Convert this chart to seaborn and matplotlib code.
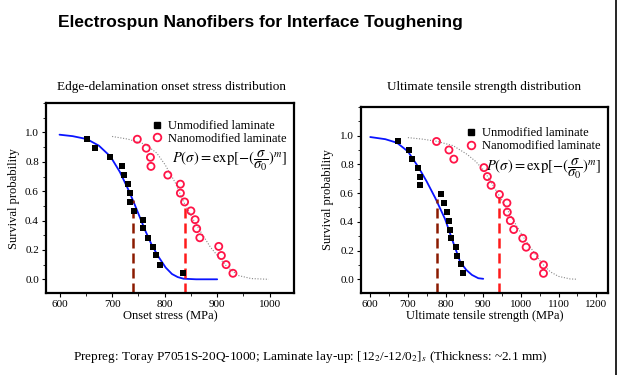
import numpy as np
import pandas as pd
import matplotlib.pyplot as plt
import seaborn as sns
from matplotlib.lines import Line2D
from matplotlib.ticker import MultipleLocator

# --- data ---
# edge-delamination onset stress (MPa) and survival probability
onset_unmod_x = [653, 667, 696, 719, 723, 730, 734, 735, 742, 759, 759, 769, 778, 784, 791, 835]
onset_unmod_p = [0.954, 0.893, 0.831, 0.769, 0.710, 0.646, 0.589, 0.527, 0.466, 0.406, 0.347, 0.283, 0.221, 0.164, 0.100, 0.041]
onset_nano_x = [748, 765, 773, 774, 806, 830, 830, 838, 850, 858, 861, 867, 903, 908, 917, 930]
onset_nano_p = [0.954, 0.893, 0.831, 0.769, 0.710, 0.648, 0.587, 0.527, 0.466, 0.406, 0.345, 0.283, 0.224, 0.162, 0.100, 0.041]
onset_unmod_fit_x = [600, 625, 652, 675, 697, 715, 731, 741, 752, 763, 776, 789, 802, 814, 825, 836, 860, 900]
onset_unmod_fit_p = [0.985, 0.975, 0.955, 0.91, 0.836, 0.73, 0.61, 0.527, 0.43, 0.333, 0.23, 0.15, 0.08, 0.036, 0.015, 0.004, 0.0, 0.0]
onset_nano_fit_x = [700, 730, 763, 785, 801, 820, 836, 854, 871, 887, 903, 920, 941, 965, 998]
onset_nano_fit_p = [0.973, 0.955, 0.92, 0.86, 0.78, 0.66, 0.527, 0.41, 0.31, 0.22, 0.15, 0.08, 0.025, 0.005, 0.0]
onset_mean = [740, 838]
onset_mean_p = [0.54, 0.52]

# ultimate tensile strength (MPa) and survival probability
uts_unmod_x = [673, 704, 712, 727, 731, 733, 788, 797, 803, 808, 811, 814, 827, 830, 842, 847]
uts_unmod_p = [0.959, 0.900, 0.836, 0.777, 0.715, 0.654, 0.592, 0.531, 0.467, 0.408, 0.346, 0.285, 0.223, 0.164, 0.103, 0.041]
uts_nano_x = [776, 809, 822, 902, 911, 921, 943, 963, 964, 972, 981, 1005, 1014, 1035, 1060, 1060]
uts_nano_p = [0.959, 0.900, 0.836, 0.777, 0.715, 0.654, 0.590, 0.531, 0.467, 0.408, 0.346, 0.285, 0.223, 0.162, 0.100, 0.041]
uts_unmod_fit_x = [600, 640, 671, 700, 728, 750, 773, 786, 799, 817, 828, 839, 855, 870, 887, 900]
uts_unmod_fit_p = [0.99, 0.975, 0.95, 0.89, 0.78, 0.68, 0.564, 0.49, 0.417, 0.28, 0.2, 0.12, 0.065, 0.03, 0.007, 0.003]
uts_nano_fit_x = [700, 740, 777, 820, 857, 880, 901, 920, 941, 965, 989, 1010, 1034, 1056, 1078, 1100, 1131, 1150]
uts_nano_fit_p = [0.986, 0.975, 0.96, 0.93, 0.87, 0.82, 0.76, 0.68, 0.588, 0.48, 0.37, 0.28, 0.19, 0.11, 0.052, 0.02, 0.002, 0.0]
uts_mean = [777, 941]
uts_mean_p = [0.56, 0.575]

sns.set_style('ticks')
plt.rcParams['font.family'] = ['Liberation Serif', 'DejaVu Serif']
plt.rcParams['mathtext.fontset'] = 'stix'
for k in ['text.color', 'axes.labelcolor', 'xtick.color', 'ytick.color', 'axes.edgecolor']:
    plt.rcParams[k] = 'black'

fig = plt.figure(figsize=(6.2, 3.75), dpi=100)
ax1 = fig.add_axes([0.074, 0.218, 0.400, 0.507])
ax2 = fig.add_axes([0.582, 0.219, 0.399, 0.496])

formula = r'$P(\sigma) = \exp[-(\dfrac{\sigma}{\sigma_0})^m]$'


def panel(ax, ux, up, nx, npr, ufx, ufp, nfx, nfp, mean, mean_p, xlim, xmax_tick, xlabel, leg_y, form_y):
    sns.lineplot(x=ufx, y=ufp, ax=ax, color='#0a14ff', lw=1.3, sort=False)
    sns.lineplot(x=nfx, y=nfp, ax=ax, color='#888888', lw=0.8, ls=(0, (1, 1.5)), sort=False)
    sns.scatterplot(x=ux, y=up, ax=ax, marker='s', color='black', s=18, linewidth=0, zorder=3)
    sns.scatterplot(x=nx, y=npr, ax=ax, marker='o', facecolor='none', edgecolor='#ff1447',
                    s=26, linewidth=1.3, zorder=3)
    ax.set_xlim(*xlim)
    ax.set_ylim(-0.095, 1.2)
    ax.vlines(mean[0], -0.095, mean_p[0], color='#8b1a00', lw=1.8, ls=(0, (4, 2)), zorder=2)
    ax.vlines(mean[1], -0.095, mean_p[1], color='#ff1a1a', lw=1.8, ls=(0, (4, 2)), zorder=2)
    ax.set_xticks(np.arange(600, xmax_tick + 1, 100))
    ax.xaxis.set_minor_locator(MultipleLocator(50))
    ax.set_yticks(np.arange(0, 1.01, 0.2))
    ax.yaxis.set_minor_locator(MultipleLocator(0.1))
    ax.set_yticklabels([f'{v:.1f}' for v in np.arange(0, 1.01, 0.2)])
    ax.tick_params(labelsize=8, length=3, width=0.8, pad=2)
    ax.tick_params(which='minor', length=2, width=0.6)
    for s in ax.spines.values():
        s.set_linewidth(1.6)
        s.set_visible(True)
    ax.set_xlabel(xlabel, fontsize=9, labelpad=1)
    ax.set_ylabel('Survival probability', fontsize=9, labelpad=4)
    handles = [Line2D([], [], marker='s', color='black', ls='none', markersize=4.5),
               Line2D([], [], marker='o', markerfacecolor='none', markeredgecolor='#ff1447',
                      markeredgewidth=1.3, ls='none', markersize=5.5)]
    ax.legend(handles, ['Unmodified laminate', 'Nanomodified laminate'], loc='upper right',
              bbox_to_anchor=(1.0, leg_y), frameon=False, fontsize=9, handletextpad=0.4,
              labelspacing=0.05, borderaxespad=0.2, handlelength=1.0)
    ax.text(0.97, form_y, formula, transform=ax.transAxes, ha='right', va='center', fontsize=10.5)


panel(ax1, onset_unmod_x, onset_unmod_p, onset_nano_x, onset_nano_p,
      onset_unmod_fit_x, onset_unmod_fit_p, onset_nano_fit_x, onset_nano_fit_p,
      onset_mean, onset_mean_p, (574, 1046), 1000, 'Onset stress (MPa)', 0.95, 0.695)
panel(ax2, uts_unmod_x, uts_unmod_p, uts_nano_x, uts_nano_p,
      uts_unmod_fit_x, uts_unmod_fit_p, uts_nano_fit_x, uts_nano_fit_p,
      uts_mean, uts_mean_p, (575, 1232), 1200, 'Ultimate tensile strength (MPa)', 0.93, 0.67)

fig.text(0.277, 0.768, 'Edge-delamination onset stress distribution', ha='center', va='center', fontsize=9.5)
fig.text(0.781, 0.768, 'Ultimate tensile strength distribution', ha='center', va='center', fontsize=9.5)
fig.text(0.42, 0.939, 'Electrospun Nanofibers for Interface Toughening', ha='center', va='center',
         fontsize=12.5, fontweight='bold', family=['Liberation Sans', 'DejaVu Sans'])
fig.text(0.5, 0.048, r'Prepreg: Toray P7051S-20Q-1000; Laminate lay-up: [12$_2$/-12/0$_2$]$_s$ (Thickness: ~2.1 mm)',
         ha='center', va='center', fontsize=9.5)
fig.add_artist(Line2D([0.994, 0.994], [0, 1], color='black', lw=1.2, transform=fig.transFigure))

fig.savefig('out.png', dpi=100)
